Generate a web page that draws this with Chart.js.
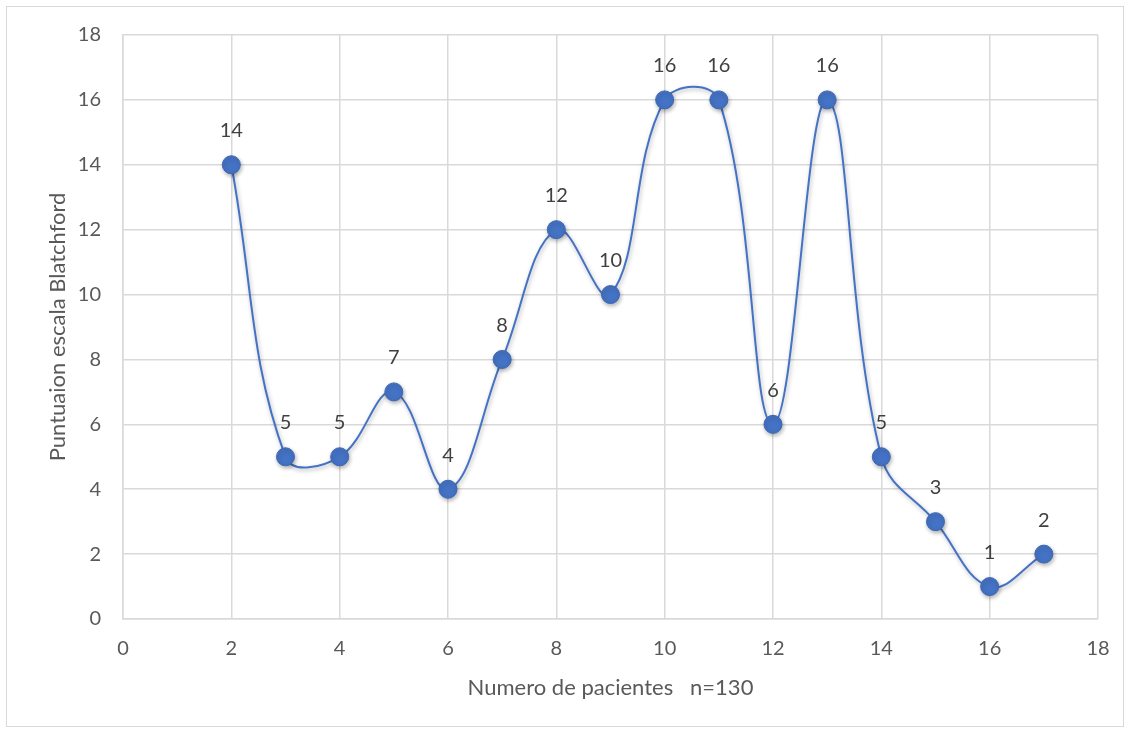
<!DOCTYPE html>
<html>
<head>
<meta charset="utf-8">
<script src="https://cdn.jsdelivr.net/npm/chart.js@4/dist/chart.umd.min.js"></script>
<style>
  html, body { margin: 0; padding: 0; background: #fff; }
  #wrap { position: relative; width: 1132px; height: 731px; }
  #frame { position: absolute; left: 6px; top: 6px; width: 1118px; height: 721px; border: 1px solid #d9d9d9; box-sizing: border-box; pointer-events: none; }
  canvas { position: absolute; left: 0; top: 0; }
</style>
</head>
<body>
<div id="wrap">
  <canvas id="c" width="1132" height="731"></canvas>
  <div id="frame"></div>
</div>
<script>
const patientX = [2, 3, 4, 5, 6, 7, 8, 9, 10, 11, 12, 13, 14, 15, 16, 17];
const blatchfordScore = [14, 5, 5, 7, 4, 8, 12, 10, 16, 16, 6, 16, 5, 3, 1, 2];
const xTitle = 'Numero de pacientes   n=130';
const yTitle = 'Puntuaion escala Blatchford';
const axisMin = 0, axisMax = 18, axisStep = 2;

const points = patientX.map((x, i) => ({ x: x, y: blatchfordScore[i] }));
const FONT = 'Lato, "Open Sans", sans-serif';
const BLUE = '#4472C4';

const shadowPlugin = {
  id: 'shadow',
  beforeDatasetDraw(chart) {
    const ctx = chart.ctx;
    ctx.save();
    ctx.shadowColor = 'rgba(0,0,0,0.30)';
    ctx.shadowBlur = 4;
    ctx.shadowOffsetX = 1;
    ctx.shadowOffsetY = 2;
  },
  afterDatasetDraw(chart) {
    chart.ctx.restore();
  }
};

const labelPlugin = {
  id: 'valueLabels',
  afterDatasetsDraw(chart) {
    const ctx = chart.ctx;
    const meta = chart.getDatasetMeta(0);
    ctx.save();
    ctx.font = '20px ' + FONT;
    ctx.fillStyle = '#404040';
    ctx.textAlign = 'center';
    ctx.textBaseline = 'middle';
    meta.data.forEach((el, i) => {
      ctx.fillText(String(blatchfordScore[i]), el.x, el.y - 34);
    });
    ctx.restore();
  }
};

new Chart(document.getElementById('c'), {
  type: 'scatter',
  data: {
    datasets: [{
      data: points,
      showLine: true,
      tension: 0.4,
      borderColor: BLUE,
      borderWidth: 2,
      backgroundColor: BLUE,
      pointBackgroundColor: '#4472C4',
      pointBorderColor: '#3d67b3',
      pointBorderWidth: 1,
      pointRadius: 9,
      pointHoverRadius: 9
    }]
  },
  options: {
    responsive: false,
    animation: false,
    events: [],
    layout: { padding: { left: 45, top: 35, right: 34, bottom: 30 } },
    plugins: { legend: { display: false }, tooltip: { enabled: false } },
    scales: {
      x: {
        type: 'linear', min: axisMin, max: axisMax,
        ticks: { stepSize: axisStep, color: '#595959', font: { family: FONT, size: 20 }, padding: 18 },
        grid: { color: '#d9d9d9', lineWidth: 1.5, drawTicks: false },
        border: { color: '#d9d9d9', width: 1.5 },
        title: { display: true, text: xTitle, color: '#595959', font: { family: FONT, size: 22 }, padding: 0 },
        afterFit(s) { s.height = 82; }
      },
      y: {
        type: 'linear', min: axisMin, max: axisMax,
        ticks: { stepSize: axisStep, color: '#595959', font: { family: FONT, size: 20 }, padding: 22 },
        grid: { color: '#d9d9d9', lineWidth: 1.5, drawTicks: false },
        border: { color: '#d9d9d9', width: 1.5 },
        title: { display: true, text: yTitle, color: '#595959', font: { family: FONT, size: 22 }, padding: 0 },
        afterFit(s) { s.width = 78; }
      }
    }
  },
  plugins: [shadowPlugin, labelPlugin]
});
</script>
</body>
</html>
